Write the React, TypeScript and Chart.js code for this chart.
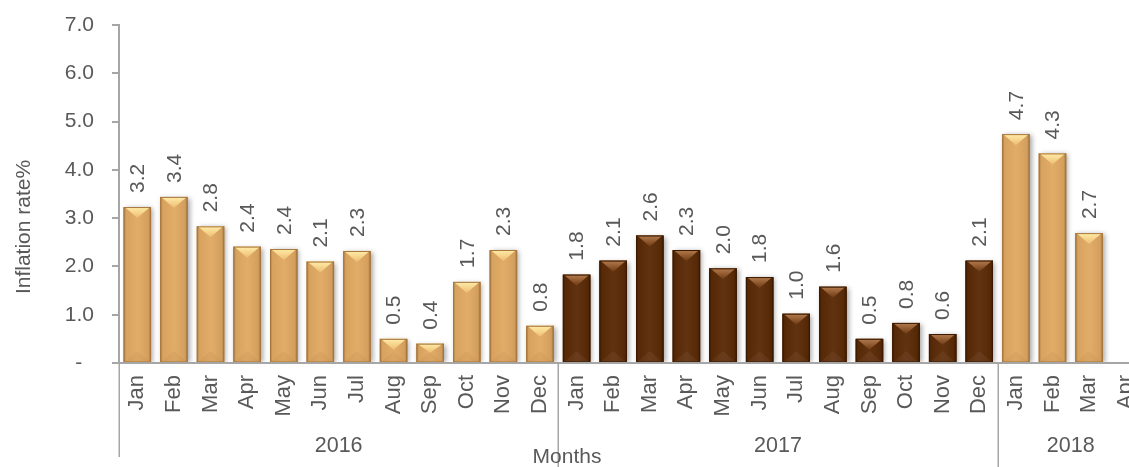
import React, { useEffect, useRef } from 'react';
import { Chart, registerables } from 'chart.js';

Chart.register(...registerables);

const monthLabels = [
  'Jan', 'Feb', 'Mar', 'Apr', 'May', 'Jun', 'Jul', 'Aug', 'Sep', 'Oct', 'Nov', 'Dec',
  'Jan', 'Feb', 'Mar', 'Apr', 'May', 'Jun', 'Jul', 'Aug', 'Sep', 'Oct', 'Nov', 'Dec',
  'Jan', 'Feb', 'Mar', 'Apr',
];
const yearLabels = ['2016', '2017', '2018'];
const monthsPerYear = [12, 12, 4];
const rate2016 = [3.23, 3.44, 2.83, 2.41, 2.36, 2.1, 2.32, 0.5, 0.4, 1.68, 2.34, 0.77];
const rate2017 = [1.83, 2.12, 2.64, 2.34, 1.96, 1.78, 1.02, 1.58, 0.5, 0.83, 0.6, 2.12];
const rate2018: (number | null)[] = [4.74, 4.34, 2.69, null];
const yTickValues = [0, 1, 2, 3, 4, 5, 6, 7];

const FONT = "'Liberation Sans', Arial, sans-serif";
const TEXT = '#595959';
const AXIS = '#A6A6A6';
const GOLD = '#E0A862';
const BROWN = '#5A2A06';

const values: (number | null)[] = [...rate2016, ...rate2017, ...rate2018];
const yearOf: number[] = [];
monthsPerYear.forEach((n, yi) => { for (let k = 0; k < n; k++) yearOf.push(yi); });
const isDark = yearOf.map((yi) => yi === 1);
const fills = isDark.map((d) => (d ? BROWN : GOLD));
const borders = isDark.map((d) => (d ? '#3A1A02' : '#A8773F'));

function barGeom(bar: any) {
  return bar.getProps(['x', 'y', 'base', 'width'], true);
}

const decor = {
  id: 'decor',
  beforeDatasetsDraw(chart: any) {
    const ctx = chart.ctx;
    const ca = chart.chartArea;
    const meta = chart.getDatasetMeta(0);
    ctx.save();
    ctx.beginPath();
    ctx.rect(ca.left, ca.top - 20, ca.right - ca.left + 20, ca.bottom - ca.top + 20);
    ctx.clip();
    ctx.shadowColor = 'rgba(0,0,0,0.35)';
    ctx.shadowBlur = 5;
    ctx.shadowOffsetX = 2;
    ctx.shadowOffsetY = 1;
    meta.data.forEach((bar: any, i: number) => {
      if (values[i] == null) return;
      const { x, y, base, width } = barGeom(bar);
      ctx.fillStyle = fills[i];
      ctx.fillRect(x - width / 2, y, width, base - y);
    });
    ctx.restore();
  },
  afterDatasetsDraw(chart: any) {
    const ctx = chart.ctx;
    const meta = chart.getDatasetMeta(0);
    meta.data.forEach((bar: any, i: number) => {
      const v = values[i];
      if (v == null) return;
      const { x, y, base, width } = barGeom(bar);
      const l = x - width / 2;
      const r = x + width / 2;
      const h = base - y;
      const d = Math.min(11, h / 2);
      const dark = isDark[i];
      ctx.save();
      const g = ctx.createLinearGradient(l, 0, r, 0);
      g.addColorStop(0, 'rgba(0,0,0,0.28)');
      g.addColorStop(0.09, 'rgba(0,0,0,0.04)');
      g.addColorStop(0.5, 'rgba(255,255,255,0.04)');
      g.addColorStop(0.91, 'rgba(0,0,0,0.06)');
      g.addColorStop(1, 'rgba(0,0,0,0.32)');
      ctx.fillStyle = g;
      ctx.fillRect(l, y, width, h);
      ctx.beginPath();
      ctx.moveTo(l + 1, y);
      ctx.lineTo(r - 1, y);
      ctx.lineTo(x, y + d);
      ctx.closePath();
      const gt = ctx.createLinearGradient(0, y, 0, y + d);
      if (dark) {
        gt.addColorStop(0, '#B57C4E');
        gt.addColorStop(1, '#6E3A14');
      } else {
        gt.addColorStop(0, '#FFEDA8');
        gt.addColorStop(1, '#EDBC72');
      }
      ctx.fillStyle = gt;
      ctx.fill();
      ctx.beginPath();
      ctx.moveTo(l + 1, base);
      ctx.lineTo(r - 1, base);
      ctx.lineTo(x, base - d);
      ctx.closePath();
      ctx.fillStyle = dark ? 'rgba(255,255,255,0.05)' : 'rgba(120,70,20,0.06)';
      ctx.fill();
      ctx.strokeStyle = borders[i];
      ctx.lineWidth = 1;
      ctx.strokeRect(l + 0.5, y + 0.5, width - 1, h - 0.5);
      ctx.restore();

      ctx.save();
      ctx.translate(x + 1, y - 14);
      ctx.rotate(-Math.PI / 2);
      ctx.font = `21px ${FONT}`;
      ctx.fillStyle = TEXT;
      ctx.textAlign = 'left';
      ctx.textBaseline = 'middle';
      ctx.fillText(v.toFixed(1), 0, 0);
      ctx.restore();
    });
  },
  afterDraw(chart: any) {
    const ctx = chart.ctx;
    const ca = chart.chartArea;
    const xs = chart.scales.x;
    ctx.save();
    ctx.strokeStyle = AXIS;
    ctx.lineWidth = 2;
    ctx.beginPath();
    ctx.moveTo(ca.left, ca.bottom);
    ctx.lineTo(chart.width, ca.bottom);
    ctx.stroke();

    const bounds: number[] = [ca.left];
    let idx = 0;
    monthsPerYear.forEach((n, yi) => {
      idx += n;
      if (yi < monthsPerYear.length - 1) {
        bounds.push((xs.getPixelForValue(idx - 1) + xs.getPixelForValue(idx)) / 2);
      }
    });
    bounds.push(ca.right);

    ctx.lineWidth = 1.5;
    ctx.strokeStyle = AXIS;
    for (let k = 0; k < bounds.length - 1; k++) {
      const bx = Math.round(bounds[k]) + 0.25;
      ctx.beginPath();
      ctx.moveTo(bx, ca.bottom);
      ctx.lineTo(bx, k === 0 ? 457 : 467);
      ctx.stroke();
    }

    ctx.font = `21.5px ${FONT}`;
    ctx.fillStyle = TEXT;
    ctx.textAlign = 'center';
    ctx.textBaseline = 'alphabetic';
    yearLabels.forEach((yl, k) => {
      ctx.fillText(yl, (bounds[k] + bounds[k + 1]) / 2, 451.5);
    });
    ctx.font = `21px ${FONT}`;
    ctx.fillText('Months', 567, 463);

    ctx.translate(29.5, 227);
    ctx.rotate(-Math.PI / 2);
    ctx.textAlign = 'center';
    ctx.fillText('Inflation rate%', 0, 0);
    ctx.restore();
  },
};

export default function App() {
  const ref = useRef<HTMLCanvasElement | null>(null);

  useEffect(() => {
    if (!ref.current) return;
    const chart = new Chart(ref.current, {
      type: 'bar',
      data: {
        labels: monthLabels,
        datasets: [
          {
            data: values as any,
            backgroundColor: fills,
            borderColor: borders,
            borderWidth: 0,
            categoryPercentage: 1,
            barPercentage: 0.75,
          },
        ],
      },
      options: {
        animation: false,
        responsive: false,
        maintainAspectRatio: false,
        devicePixelRatio: 1,
        events: [],
        layout: { padding: { top: 25, right: 4, left: 0, bottom: 0 } },
        plugins: {
          legend: { display: false },
          tooltip: { enabled: false },
          title: { display: false },
        },
        scales: {
          x: {
            type: 'category',
            offset: true,
            grid: { display: false, drawTicks: false },
            border: { display: true, color: AXIS, width: 2 },
            ticks: {
              color: TEXT,
              font: { family: FONT, size: 22 },
              maxRotation: 90,
              minRotation: 90,
              padding: 12,
              autoSkip: false,
            },
            afterFit: (s: any) => {
              s.height = 104;
              s.paddingLeft = 0;
              s.paddingRight = 0;
            },
          },
          y: {
            min: 0,
            max: 7,
            afterBuildTicks: (s: any) => { s.ticks = yTickValues.map((v) => ({ value: v })); },
            ticks: {
              stepSize: 1,
              color: TEXT,
              font: { family: FONT, size: 21 },
              padding: 18,
              callback: (v: any) => (Number(v) === 0 ? '-  ' : Number(v).toFixed(1)),
            },
            grid: { drawOnChartArea: false, drawTicks: true, tickLength: 7, color: AXIS, lineWidth: 2 },
            border: { display: true, color: AXIS, width: 2 },
            afterFit: (s: any) => {
              s.width = 119;
              s.paddingTop = 0;
              s.paddingBottom = 0;
            },
          },
        },
      },
      plugins: [decor],
    });
    return () => chart.destroy();
  }, []);

  return (
    <div style={{ position: 'fixed', left: 0, top: 0, width: '100vw', height: '100vh', overflow: 'hidden', background: '#fff' }}>
      <canvas ref={ref} width={1148} height={467} style={{ display: 'block', width: 1148, height: 467 }} />
    </div>
  );
}
